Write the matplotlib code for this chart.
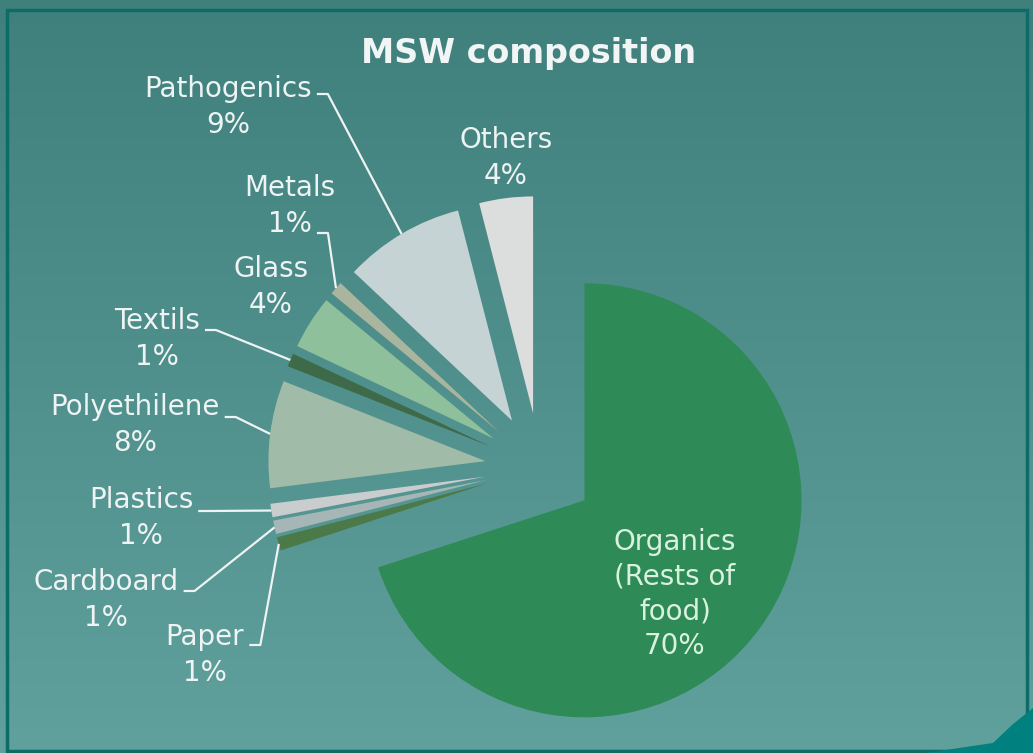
import numpy as np
import matplotlib.pyplot as plt
from matplotlib.patches import Rectangle, Polygon

# data
names = ['Organics\n(Rests of\nfood)', 'Paper', 'Cardboard', 'Plastics', 'Polyethilene',
         'Textils', 'Glass', 'Metals', 'Pathogenics', 'Others']
shares = [70, 1, 1, 1, 8, 1, 4, 1, 9, 4]
colors = ['#2e8a56', '#4b7a48', '#a6b6b6', '#c9cdcd', '#a0bba8',
          '#3f6a4a', '#8fc09c', '#a9b59f', '#c6d3d5', '#dcdddd']

W, H = 1033, 753

# label layout in picture pixels (y down): text centre, height of leader tick
label_pos = {
    'Paper': (205, 655), 'Cardboard': (106, 600), 'Plastics': (141, 518),
    'Polyethilene': (135, 425), 'Textils': (157, 339), 'Glass': (271, 287),
    'Metals': (290, 206), 'Pathogenics': (228, 107), 'Others': (506, 158),
}
leader_y = {
    'Paper': 645, 'Cardboard': 591, 'Plastics': 511, 'Polyethilene': 417,
    'Textils': 330, 'Metals': 233, 'Pathogenics': 94,
}

fig = plt.figure(figsize=(W / 100, H / 100), dpi=100)
ax = fig.add_axes([0, 0, 1, 1])

# background gradient
top = np.array([0x3f, 0x80, 0x7c]) / 255
bot = np.array([0x60, 0xa0, 0x9d]) / 255
t = np.linspace(0, 1, 256)[:, None]
grad = top * (1 - t) + bot * t
ax.imshow(grad[:, None, :], extent=(0, W, 0, H), aspect='auto', zorder=0)

# frame and corner decoration
ax.add_patch(Rectangle((7, 2), W - 13, H - 12, fill=False, edgecolor='#0d6b68',
                       linewidth=2.5, zorder=1))
ax.add_patch(Polygon([(925, 0), (993, 10), (1012, 28), (1033, 45), (1033, 0)],
                     closed=True, facecolor='#00807e', edgecolor='none', zorder=1))

R = 217
wedges, _ = ax.pie(shares, colors=colors, startangle=90, counterclock=False,
                   explode=[55] * len(shares), radius=R, center=(540, H - 468),
                   wedgeprops=dict(linewidth=0, zorder=2), frame=True)

ax.set_xlim(0, W)
ax.set_ylim(0, H)
ax.axis('off')

txt_col = '#eef3f3'
fig.canvas.draw()
renderer = fig.canvas.get_renderer()
for w, name, val in zip(wedges, names, shares):
    if name.startswith('Organics'):
        ax.text(675, H - 594, name + '\n' + f'{val}%', ha='center', va='center',
                fontsize=20, color='#d9f2df', linespacing=1.3, zorder=4)
        continue
    x, y = label_pos[name]
    ax.text(x, H - y, f'{name}\n{val}%', ha='center', va='center', fontsize=20,
            color=txt_col, linespacing=1.4, zorder=4)
    if name in leader_y:
        # the tick hangs off the name line, or the value line when it sits lower
        line = name if leader_y[name] < y else f'{val}%'
        tmp = ax.text(x, H - y, line, ha='center', fontsize=20)
        half = tmp.get_window_extent(renderer).width / 2
        tmp.remove()
        th = np.deg2rad((w.theta1 + w.theta2) / 2)
        ex = w.center[0] + R * np.cos(th)
        ey = w.center[1] + R * np.sin(th)
        sx = x + half + 5
        sy = H - leader_y[name]
        ax.plot([sx, sx + 11, ex], [sy, sy, ey], color=txt_col,
                linewidth=1.6, zorder=3, solid_capstyle='butt')

ax.text(529, H - 63, 'MSW composition', ha='center', va='baseline', fontsize=24,
        fontweight='bold', color='#f2f5f5', zorder=4)

plt.savefig('out.png', dpi=100)
